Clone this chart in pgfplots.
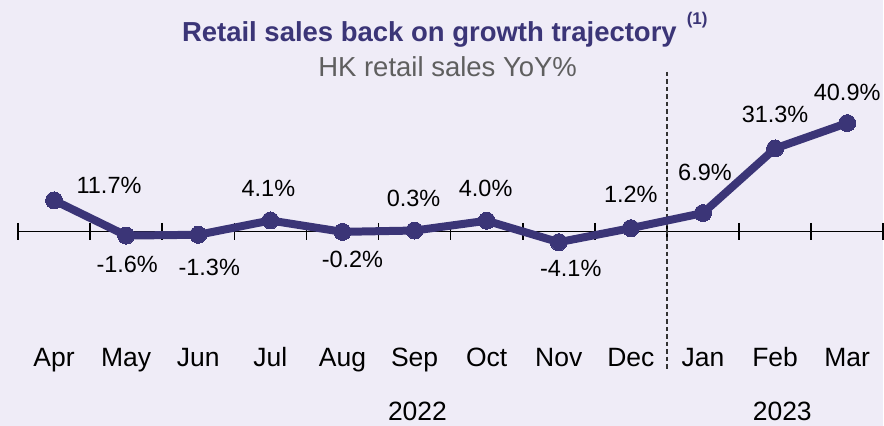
\documentclass[border=0pt]{standalone}
\usepackage{fontspec}
\setmainfont{Liberation Sans}
\usepackage{pgfplots}
\usepackage{pgfplotstable}
\pgfplotsset{compat=1.18}
\definecolor{bg}{HTML}{EFECF7}
\definecolor{navy}{HTML}{3B3577}
\definecolor{subgray}{HTML}{5F5F5F}

% x: month index (Apr 2022 = 0), y: YoY %, dx/dy: label offset in pt
\pgfplotstableread{
x y dx dy lab
0 11.7 55 15 11.7
1 -1.6 1 -29 -1.6
2 -1.3 11 -33 -1.3
3 4.1 -2 32 4.1
4 -0.2 10 -28 -0.2
5 0.3 -1 32 0.3
6 4.0 -1 32 4.0
7 -4.1 12 -26 -4.1
8 1.2 0 34 1.2
9 6.9 2 41 6.9
10 31.3 0 34 31.3
11 40.9 0 31 40.9
}\sales

\begin{document}
\begin{tikzpicture}
\begin{axis}[
    scale only axis,
    width=884pt, height=426pt,
    xmin=-0.75, xmax=11.5,
    ymin=-73.4, ymax=87.4,
    axis background/.style={fill=bg},
    axis line style={draw=none},
    tick style={draw=none},
    ytick=\empty,
    xtick={0,...,11},
    xticklabels={Apr,May,Jun,Jul,Aug,Sep,Oct,Nov,Dec,Jan,Feb,Mar},
    xticklabel style={anchor=base, yshift=59pt,
      font=\fontsize{26.5}{32}\selectfont},
    clip=false,
    ]
% zero line with category ticks
\draw[black, line width=1.4pt] (axis cs:-0.5,0) -- (axis cs:11.5,0);
\draw[black, line width=1.6pt]
  (axis cs:-0.5,3.2) -- (axis cs:-0.5,-3.2)
  (axis cs:0.5,3.2) -- (axis cs:0.5,-3.2)
  (axis cs:1.5,3.2) -- (axis cs:1.5,-3.2)
  (axis cs:2.5,3.2) -- (axis cs:2.5,-3.2)
  (axis cs:3.5,3.2) -- (axis cs:3.5,-3.2)
  (axis cs:4.5,3.2) -- (axis cs:4.5,-3.2)
  (axis cs:5.5,3.2) -- (axis cs:5.5,-3.2)
  (axis cs:6.5,3.2) -- (axis cs:6.5,-3.2)
  (axis cs:7.5,3.2) -- (axis cs:7.5,-3.2)
  (axis cs:8.5,3.2) -- (axis cs:8.5,-3.2)
  (axis cs:9.5,3.2) -- (axis cs:9.5,-3.2)
  (axis cs:10.5,3.2) -- (axis cs:10.5,-3.2)
  (axis cs:11.5,3.2) -- (axis cs:11.5,-3.2);
% year separator
\draw[black!80, line width=1.3pt, dash pattern=on 4.5pt off 3pt]
  (axis cs:8.5,60.2) -- (axis cs:8.5,-53);

\addplot[navy, line width=8pt, line join=round,
    mark=*, mark size=8.5pt, mark options={fill=navy, draw=navy, line width=0pt},
    nodes near coords={\pgfplotspointmeta\%},
    point meta=explicit symbolic,
    visualization depends on={\thisrow{dx} \as \dx},
    visualization depends on={\thisrow{dy} \as \dy},
    every node near coord/.append style={anchor=center, xshift=\dx pt, yshift=\dy pt,
      text=black, font=\fontsize{23.5}{28}\selectfont},
    ] table[x=x, y=y, meta=lab] {\sales};

% titles and years
\node[anchor=base west, inner sep=0, text=navy,
      font=\fontsize{27.5}{33}\selectfont\bfseries]
  at (rel axis cs:0.2059,0.9014)
  {Retail sales back on growth trajectory\hspace{10pt}{\fontsize{17}{20}\selectfont\raisebox{17pt}{(1)}}};
\node[anchor=base, inner sep=0, text=subgray, font=\fontsize{27.5}{33}\selectfont]
  at (rel axis cs:0.5068,0.8192) {HK retail sales YoY\%};
\node[inner sep=0, font=\fontsize{26.5}{32}\selectfont] at (axis cs:5.04,-67.9) {2022};
\node[inner sep=0, font=\fontsize{26.5}{32}\selectfont] at (axis cs:10.1,-67.9) {2023};
\end{axis}
\end{tikzpicture}
\end{document}
